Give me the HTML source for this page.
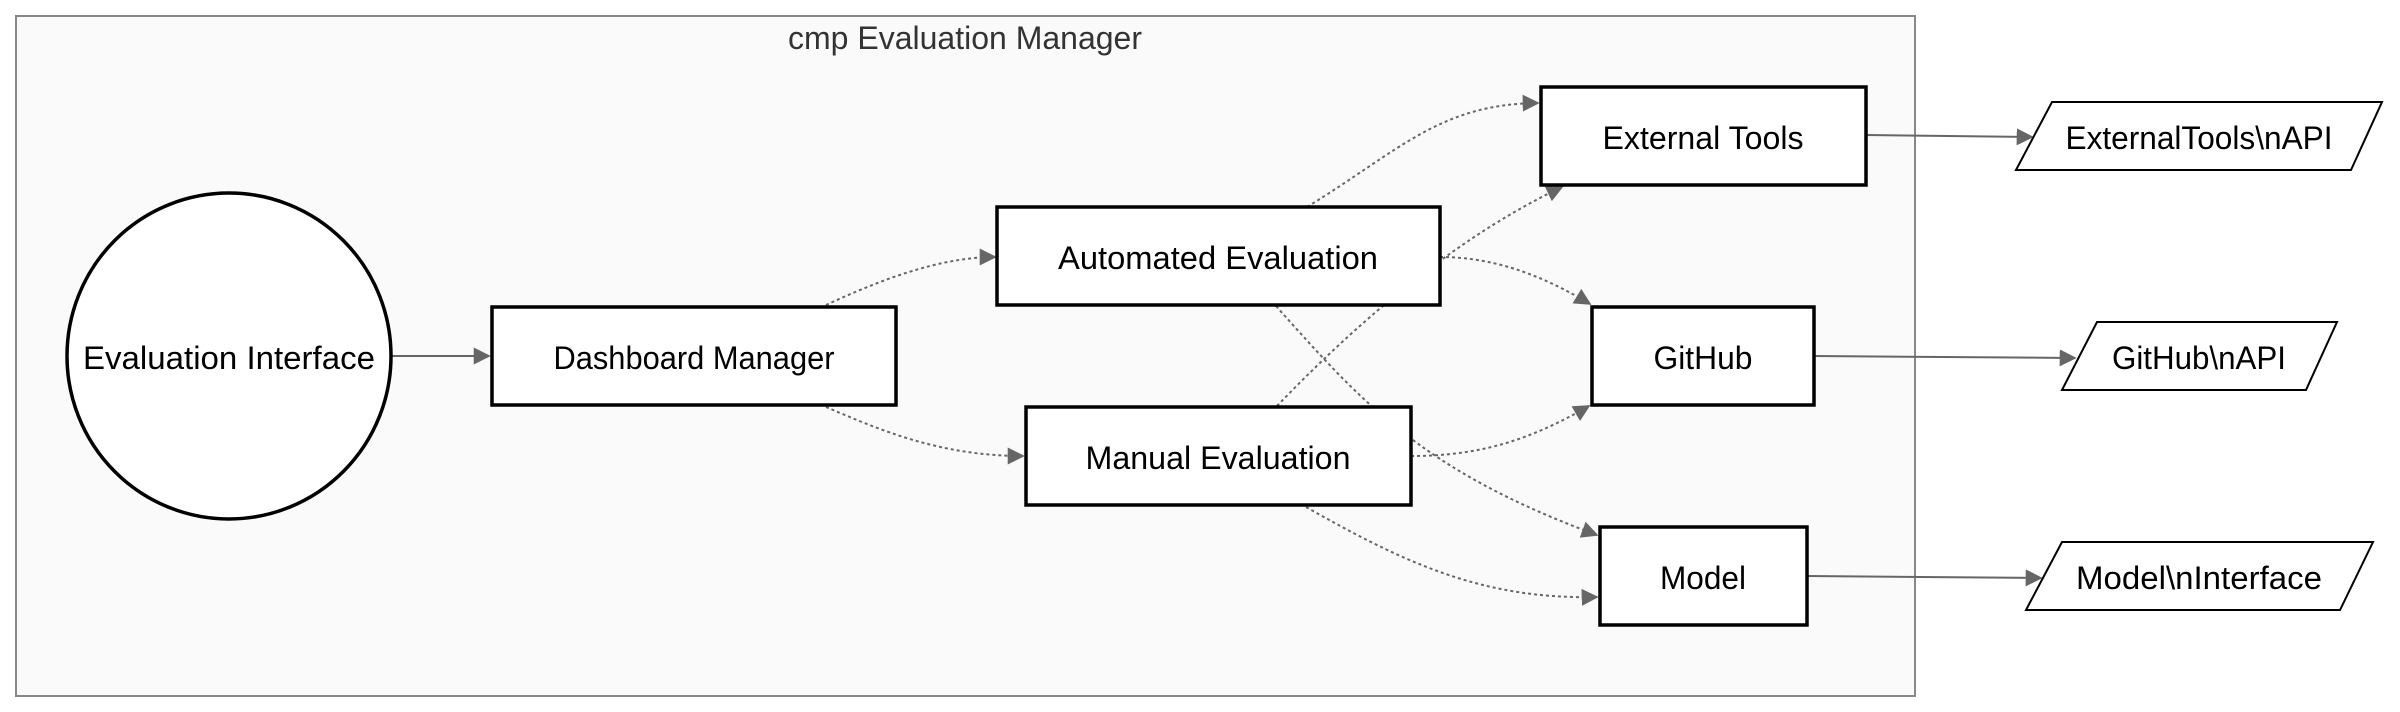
<!DOCTYPE html>
<html><head><meta charset="utf-8"><style>
html,body{margin:0;padding:0;background:#fff;}
svg{display:block;}
text{font-family:"Liberation Sans",sans-serif;font-size:32px;fill:#000;}
</style></head><body>
<svg width="2400" height="712" viewBox="0 0 2400 712" xmlns="http://www.w3.org/2000/svg">
<defs>
<marker id="a" viewBox="0 0 10 10" refX="9" refY="5" markerWidth="17" markerHeight="17" markerUnits="userSpaceOnUse" orient="auto"><path d="M0,0L10,5L0,10z" fill="#666"/></marker>
</defs>
<rect x="16" y="16" width="1899" height="680" fill="#fafafa" stroke="#888" stroke-width="2"/>
<text x="965" y="38" text-anchor="middle" dominant-baseline="central" fill="#333" style="fill:#333" textLength="354" lengthAdjust="spacingAndGlyphs">cmp Evaluation Manager</text>

<g fill="none" stroke="#666" stroke-width="2">
<path d="M392,356L489,356" marker-end="url(#a)"/>
<path d="M1866,135L2032,137" marker-end="url(#a)"/>
<path d="M1814,356L2075,358" marker-end="url(#a)"/>
<path d="M1807,576L2041,578" marker-end="url(#a)"/>
</g>
<g fill="none" stroke="#666" stroke-width="2" stroke-dasharray="3,3">
<path d="M826,305C880,280 940,257 995,257" marker-end="url(#a)"/>
<path d="M826,407C880,430 940,456 1023,456" marker-end="url(#a)"/>
<path d="M1307,207C1400,150 1440,104 1538,103" marker-end="url(#a)"/>
<path d="M1440,257C1500,257 1550,280 1590,304" marker-end="url(#a)"/>
<path d="M1276,306C1360,400 1420,470 1597,535" marker-end="url(#a)"/>
<path d="M1277,406C1350,330 1450,240 1562,187" marker-end="url(#a)"/>
<path d="M1411,456C1480,456 1530,440 1589,406" marker-end="url(#a)"/>
<path d="M1306,507C1400,560 1480,600 1597,597" marker-end="url(#a)"/>
</g>

<g fill="#fff" stroke="#000" stroke-width="3.5">
<ellipse cx="229" cy="356" rx="162" ry="163"/>
<rect x="492" y="307" width="404" height="98"/>
<rect x="997" y="207" width="443" height="98"/>
<rect x="1026" y="407" width="385" height="98"/>
<rect x="1541" y="87" width="325" height="98"/>
<rect x="1592" y="307" width="222" height="98"/>
<rect x="1600" y="527" width="207" height="98"/>
</g>
<g fill="#fff" stroke="#000" stroke-width="2">
<polygon points="2052,102 2382,102 2351,170 2016,170"/>
<polygon points="2097,322 2337,322 2306,390 2062,390"/>
<polygon points="2062,542 2373,542 2340,610 2026,610"/>
</g>

<g text-anchor="middle" dominant-baseline="central">
<text x="229" y="358" textLength="292" lengthAdjust="spacingAndGlyphs">Evaluation Interface</text>
<text x="694" y="358" textLength="281" lengthAdjust="spacingAndGlyphs">Dashboard Manager</text>
<text x="1218" y="258" textLength="320" lengthAdjust="spacingAndGlyphs">Automated Evaluation</text>
<text x="1218" y="458" textLength="265" lengthAdjust="spacingAndGlyphs">Manual Evaluation</text>
<text x="1703" y="138" textLength="201" lengthAdjust="spacingAndGlyphs">External Tools</text>
<text x="1703" y="358" textLength="99" lengthAdjust="spacingAndGlyphs">GitHub</text>
<text x="1703" y="578" textLength="86" lengthAdjust="spacingAndGlyphs">Model</text>
<text x="2199" y="138" textLength="267" lengthAdjust="spacingAndGlyphs">ExternalTools\nAPI</text>
<text x="2199" y="358" textLength="174" lengthAdjust="spacingAndGlyphs">GitHub\nAPI</text>
<text x="2199" y="578" textLength="246" lengthAdjust="spacingAndGlyphs">Model\nInterface</text>
</g>
</svg>
</body></html>
